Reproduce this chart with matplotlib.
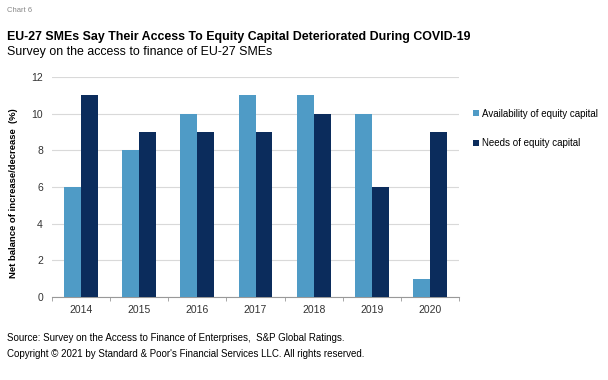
from matplotlib import pyplot as plt
import numpy as np

plt.rcParams["font.family"] = ["Liberation Sans", "DejaVu Sans"]

# survey data
years = ["2014", "2015", "2016", "2017", "2018", "2019", "2020"]
availability = [6, 8, 10, 11, 11, 10, 1]
needs = [11, 9, 9, 9, 10, 6, 9]

light_blue = "#4f9bc6"
dark_blue = "#0b2c5c"

fig = plt.figure(figsize=(6.08, 3.8), dpi=100)
ax = fig.add_axes([52 / 608, 83 / 380, 407 / 608, 220 / 380])

x = np.arange(len(years))
width = 0.29
ax.bar(x - width / 2, availability, width, color=light_blue, label="Availability of equity capital", zorder=3)
ax.bar(x + width / 2, needs, width, color=dark_blue, label="Needs of equity capital", zorder=3)

ax.set_xlim(-0.5, len(years) - 0.5)
ax.set_ylim(0, 12)
ax.set_yticks(range(0, 13, 2))
ax.set_xticks(x)
ax.set_xticklabels(years)
ax.set_xticks(np.arange(-0.5, len(years)), minor=True)
ax.tick_params(axis="x", which="major", length=0, labelsize=7.5, pad=6, colors="#333333")
ax.tick_params(axis="x", which="minor", length=3, color="#999999")
ax.tick_params(axis="y", length=0, labelsize=7.5, pad=6.5, colors="#333333")
ax.grid(axis="y", color="#d9d9d9", linewidth=0.8, zorder=0)

for side in ["top", "right", "left"]:
    ax.spines[side].set_visible(False)
ax.spines["bottom"].set_color("#999999")

ax.set_ylabel("Net balance of increase/decrease  (%)", fontsize=6.8, fontweight="bold")
ax.yaxis.set_label_coords(-34 / 407, (297 - 193) / 220)

ax.legend(loc="center left", bbox_to_anchor=(416 / 407, (297 - 128.5) / 220), frameon=False, fontsize=7,
          handlelength=0.6, handleheight=0.6, handletextpad=0.3, labelspacing=2.0, borderpad=0)

fig.text(7 / 608, 1 - 11 / 380, "Chart 6", fontsize=5.5, color="#888888", va="center")
fig.text(7 / 608, 1 - 37 / 380, "EU-27 SMEs Say Their Access To Equity Capital Deteriorated During COVID-19",
         fontsize=8.9, fontweight="bold", va="center")
fig.text(7 / 608, 1 - 52 / 380, "Survey on the access to finance of EU-27 SMEs", fontsize=8.9, va="center")
fig.text(7 / 608, 1 - 338 / 380, "Source: Survey on the Access to Finance of Enterprises,  S&P Global Ratings.",
         fontsize=7.05, va="center")
fig.text(7 / 608, 1 - 354 / 380, "Copyright \u00a9 2021 by Standard & Poor's Financial Services LLC. All rights reserved.",
         fontsize=7.05, va="center")

fig.savefig("out.png", dpi=100)
